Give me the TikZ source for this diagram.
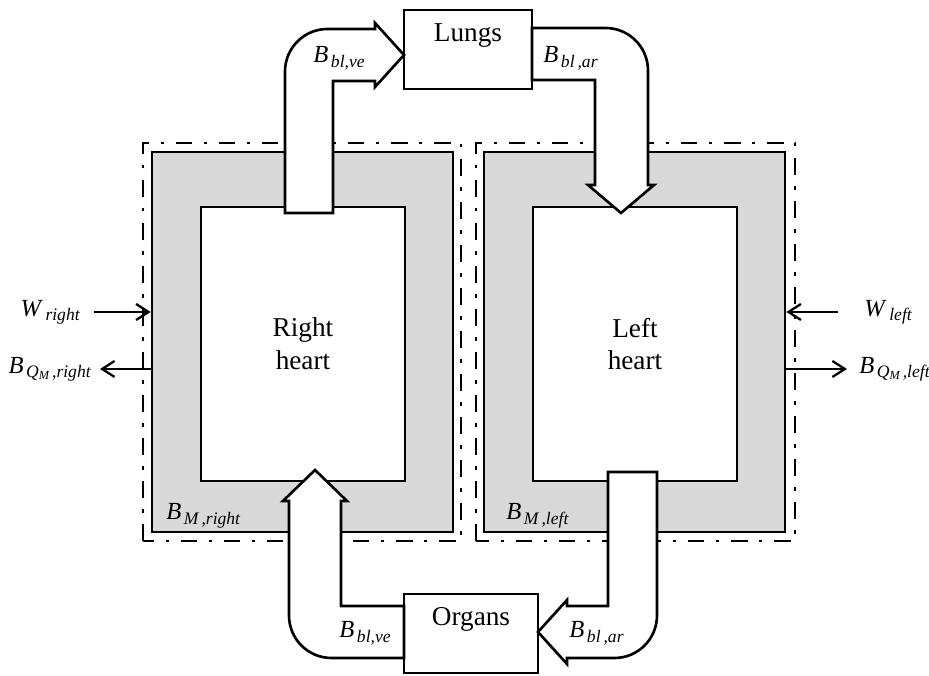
\documentclass[tikz,border=0pt]{standalone}
\usepackage{fontspec}
\setmainfont{Liberation Serif}
\usetikzlibrary{arrows.meta}
\newcommand{\flowlbl}[2]{\textit{#1}\kern1.5pt\raisebox{-2.3pt}{\fontsize{10}{10}\selectfont\itshape #2}}
\newcommand{\qmsub}{Q\raisebox{-1.5pt}{\fontsize{7}{7}\selectfont M}}
\begin{document}
\begin{tikzpicture}[line width=1.5pt, line join=miter,
  dashdot/.style={line width=1.5pt, dash pattern=on 9.5pt off 6.5pt on 2pt off 6.5pt},
  myo/.style={draw, fill=black!15, minimum width=6.02cm, minimum height=7.6cm, inner sep=0pt},
  cavity/.style={draw, fill=white, minimum width=4.08cm, minimum height=5.48cm, inner sep=0pt,
    align=center, font=\fontsize{15.5}{18.7}\selectfont},
  organ/.style={draw, fill=white, minimum height=1.58cm, inner sep=0pt},
  bigarrow/.style={draw, fill=white},
  flow/.style={-{Straight Barb[length=2.5mm, width=3.2mm]}, line width=1.3pt},
  lbl/.style={inner sep=0pt, font=\fontsize{14}{16}\selectfont},
  ttl/.style={inner sep=0pt, font=\fontsize{15.5}{18}\selectfont}]
  \useasboundingbox (0,0) rectangle (18.58,13.52);
  % the two hearts
  \draw[dashdot] (2.86,2.70) rectangle (9.22,10.66);
  \draw[dashdot] (9.52,2.70) rectangle (15.90,10.66);
  \node[myo] (rmyo) at (6.05,6.68) {};
  \node[myo] (lmyo) at (12.69,6.68) {};
  \node[cavity] (rheart) at (6.06,6.64) {Right\\heart};
  \node[cavity] (lheart) at (12.70,6.64) {Left\\heart};
  % lungs and organs
  \node[organ, minimum width=2.56cm] (lungs) at (9.36,12.53) {};
  \node[ttl, anchor=base] (lungstxt) at ([yshift=-0.66cm]lungs.north) {Lungs};
  \node[organ, minimum width=2.68cm] (organs) at (9.42,0.85) {};
  \node[ttl, anchor=base] (organstxt) at ([yshift=-0.66cm]organs.north) {Organs};
  % blood to the lungs and back
  \draw[bigarrow] (5.70,9.26) -- (5.70,12.09) arc[start angle=180, end angle=90, radius=0.85]
    -- (7.50,12.94) -- (7.50,13.06) -- (8.08,12.42) -- (7.50,11.78) -- (7.50,11.90)
    -- (6.66,11.90) -- (6.66,9.26) -- cycle;
  \draw[bigarrow] (10.64,12.96) -- (12.11,12.96) arc[start angle=90, end angle=0, radius=0.85]
    -- (12.96,9.82) -- (13.08,9.82) -- (12.42,9.26) -- (11.76,9.82) -- (11.90,9.82)
    -- (11.90,11.92) -- (10.64,11.92) -- cycle;
  % blood to the organs and back
  \draw[bigarrow] (8.08,0.36) -- (6.63,0.36) arc[start angle=270, end angle=180, radius=0.85]
    -- (5.78,3.50) -- (5.66,3.50) -- (6.30,4.12) -- (6.94,3.50) -- (6.82,3.50)
    -- (6.82,1.40) -- (8.08,1.40) -- cycle;
  \draw[bigarrow] (12.16,4.08) -- (13.14,4.08) -- (13.14,1.21) arc[start angle=0, end angle=-90, radius=0.85]
    -- (11.34,0.36) -- (11.34,0.24) -- (10.76,0.88) -- (11.34,1.52) -- (11.34,1.40)
    -- (12.16,1.40) -- cycle;
  % labels
  \node[lbl, anchor=base west] (blveup) at (6.24,12.26) {\flowlbl{B}{bl,ve}};
  \node[lbl, anchor=base west] (blarup) at (10.84,12.26) {\flowlbl{B}{bl\,,ar}};
  \node[lbl, anchor=base west] (blvedn) at (6.76,0.76) {\flowlbl{B}{bl,ve}};
  \node[lbl, anchor=base west] (blardn) at (11.36,0.76) {\flowlbl{B}{bl\,,ar}};
  \node[lbl, anchor=base west] (bmr) at (3.30,3.12) {\flowlbl{B}{M\,,right}};
  \node[lbl, anchor=base west] (bml) at (10.10,3.12) {\flowlbl{B}{M\,,left}};
  % work in, heat out
  \node[lbl, anchor=east] (wr) at (1.62,7.28) {\flowlbl{W}{right}};
  \node[lbl, anchor=east] (bqr) at (1.84,6.14) {\flowlbl{B}{\qmsub\,,right}};
  \node[lbl, anchor=west] (wl) at (17.26,7.28) {\flowlbl{W}{left}};
  \node[lbl, anchor=west] (bql) at (17.16,6.14) {\flowlbl{B}{\qmsub\,,left}};
  \draw[flow] ([xshift=0.26cm]wr.east) -- (wr.east -| rmyo.west);
  \draw[flow] (bqr.east -| rmyo.west) -- ([xshift=0.16cm]bqr.east);
  \draw[flow] ([xshift=-0.5cm]wl.west) -- (wl.west -| lmyo.east);
  \draw[flow] (bql.west -| lmyo.east) -- ([xshift=-0.22cm]bql.west);
\end{tikzpicture}
\end{document}
